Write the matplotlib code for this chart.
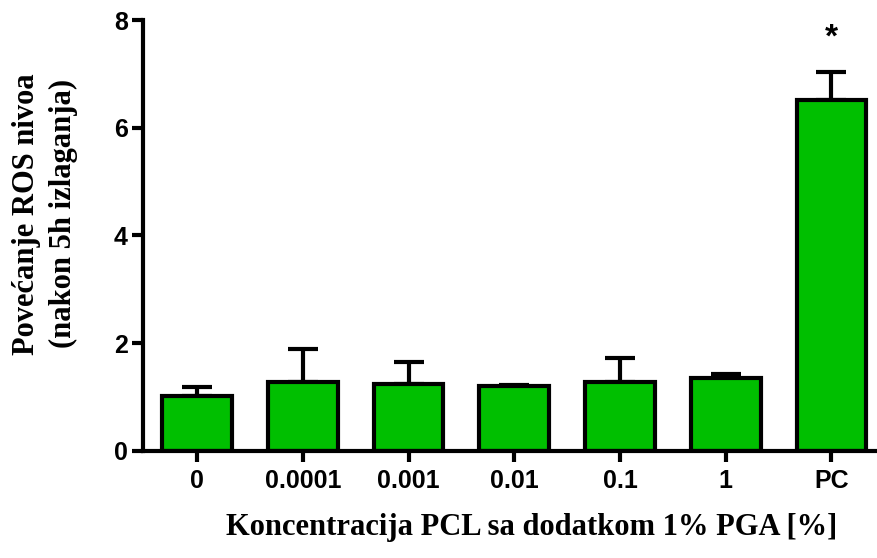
import matplotlib.pyplot as plt

# ROS levels per PCL concentration (with 1% PGA), mean and upper SD
categories = ["0", "0.0001", "0.001", "0.01", "0.1", "1", "PC"]
means = [1.01, 1.28, 1.24, 1.20, 1.28, 1.35, 6.52]
sd = [0.18, 0.61, 0.41, 0.02, 0.45, 0.08, 0.51]
significant = [False, False, False, False, False, False, True]

fig = plt.figure(figsize=(8.78, 5.58), dpi=100)
ax = fig.add_axes([0.163, 0.192, 0.837, 0.772])

x = list(range(len(categories)))
ax.bar(x, means, width=0.66, color="#00bf00", edgecolor="black", linewidth=3, zorder=2)
ax.errorbar(x, means, yerr=[[0] * len(sd), sd], fmt="none", ecolor="black",
            elinewidth=3, capsize=11, capthick=3, zorder=1)

# asterisk over significant groups
for xi, m, s, sig in zip(x, means, sd, significant):
    if sig:
        ax.text(xi, m + s + 0.35, "*", ha="center", va="bottom",
                fontsize=24, fontweight="bold", family="Liberation Sans")

ax.set_xlim(-0.51, 6.44)
ax.set_ylim(0, 8)
ax.set_yticks([0, 2, 4, 6, 8])
ax.set_xticks(x)
ax.set_xticklabels(categories)

for side in ["top", "right"]:
    ax.spines[side].set_visible(False)
for side in ["left", "bottom"]:
    ax.spines[side].set_linewidth(3)
ax.spines["left"].set_bounds(0, 8)

ax.tick_params(axis="both", direction="out", length=8, width=3, pad=3)
for lbl in ax.get_xticklabels() + ax.get_yticklabels():
    lbl.set_fontfamily("Liberation Sans")
    lbl.set_fontweight("bold")
    lbl.set_fontsize(18)
ax.tick_params(axis="x", pad=5)

ax.set_ylabel("Povećanje ROS nivoa\n(nakon 5h izlaganja)", family="Liberation Serif",
              fontweight="bold", fontsize=22, linespacing=1.4)
ax.yaxis.set_label_coords(-0.088, 0.55)
ax.set_xlabel("Koncentracija PCL sa dodatkom 1% PGA [%]", family="Liberation Serif",
              fontweight="bold", fontsize=22)
ax.xaxis.set_label_coords(0.529, -0.145)

fig.savefig("out.png", dpi=100)
